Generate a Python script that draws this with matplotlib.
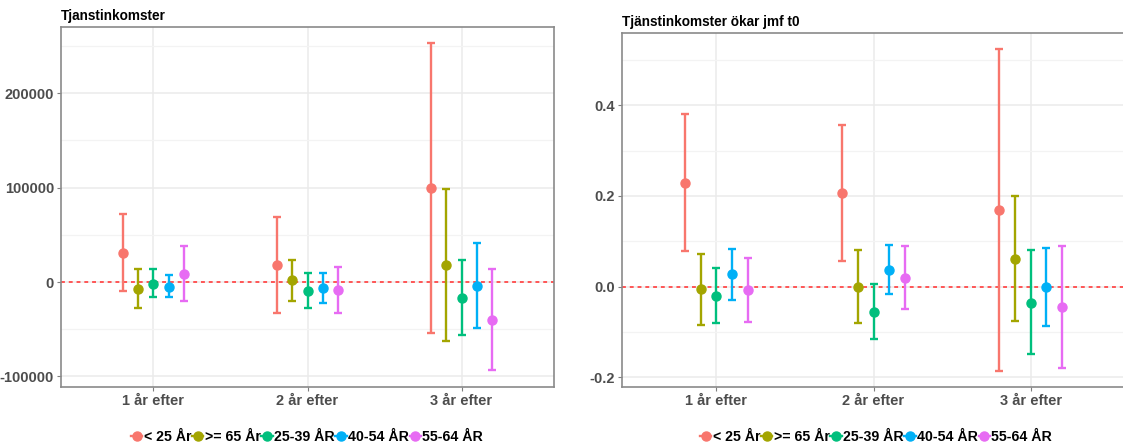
import numpy as np
import matplotlib
matplotlib.use("Agg")
import matplotlib.pyplot as plt
from matplotlib.lines import Line2D

plt.rcParams["font.family"] = ["Liberation Sans", "DejaVu Sans"]

# categories and groups
periods = ["1 år efter", "2 år efter", "3 år efter"]
groups = ["< 25 År", ">= 65 År", "25-39 ÅR", "40-54 ÅR", "55-64 ÅR"]
colors = ["#F8766D", "#A3A500", "#00BF7D", "#00B0F6", "#E76BF3"]

# left panel: Tjanstinkomster (rows = groups, cols = periods)
inc_est = [[30700, 17700, 99600],
           [-7400, 1800, 18400],
           [-1800, -9200, -16600],
           [-4900, -6000, -4200],
           [8800, -8800, -40300]]
inc_lo = [[-9900, -32900, -53700],
          [-27900, -20500, -62200],
          [-16300, -27200, -55800],
          [-16300, -22300, -49100],
          [-20100, -32500, -93600]]
inc_hi = [[71700, 69300, 253400],
          [13800, 23700, 98900],
          [13800, 9200, 23000],
          [7100, 9200, 41000],
          [37800, 15500, 14100]]

# right panel: Tjänstinkomster ökar jmf t0
rel_est = [[0.229, 0.207, 0.168],
           [-0.006, 0.000, 0.062],
           [-0.020, -0.056, -0.035],
           [0.027, 0.037, 0.000],
           [-0.008, 0.020, -0.045]]
rel_lo = [[0.079, 0.056, -0.185],
          [-0.084, -0.079, -0.076],
          [-0.079, -0.115, -0.149],
          [-0.029, -0.016, -0.086],
          [-0.078, -0.050, -0.180]]
rel_hi = [[0.380, 0.357, 0.524],
          [0.073, 0.081, 0.199],
          [0.041, 0.005, 0.080],
          [0.084, 0.091, 0.086],
          [0.064, 0.089, 0.090]]

left_ticks = [-100000, 0, 100000, 200000]
left_minor = [-50000, 50000, 150000, 250000]
right_ticks = [-0.2, 0.0, 0.2, 0.4]
right_minor = [-0.1, 0.1, 0.3, 0.5]

W, H = 1123, 448
fig = plt.figure(figsize=(W / 100, H / 100), dpi=100)


def panel(rect, est, lo, hi, title, ylim, ticks, minor, ticklabels):
    ax = fig.add_axes(rect)
    x = np.arange(1, len(periods) + 1)
    offsets = np.linspace(-0.2, 0.2, len(groups))
    for i, g in enumerate(groups):
        e = np.array(est[i])
        yerr = [e - np.array(lo[i]), np.array(hi[i]) - e]
        ax.errorbar(x + offsets[i], e, yerr=yerr, fmt="o", color=colors[i],
                    ecolor=colors[i], elinewidth=1.7, capsize=3, capthick=1.7,
                    markersize=6.5, zorder=3)
    ax.axhline(0, color="#FF5555", linestyle=(0, (2, 2)), linewidth=1.4, zorder=2)
    ax.set_xlim(0.4, 3.6)
    ax.set_ylim(*ylim)
    ax.set_xticks(x)
    ax.set_xticklabels(periods)
    ax.set_yticks(ticks)
    ax.set_yticklabels(ticklabels)
    ax.set_yticks(minor, minor=True)
    ax.grid(True, which="major", color="#EBEBEB", linewidth=1.1, zorder=0)
    ax.grid(True, which="minor", axis="y", color="#F3F3F3", linewidth=0.9, zorder=0)
    ax.tick_params(which="minor", length=0)
    ax.tick_params(which="major", length=3, color="#7F7F7F", labelsize=10.5,
                   labelcolor="#4D4D4D", pad=2)
    for lab in ax.get_xticklabels() + ax.get_yticklabels():
        lab.set_fontweight("bold")
    for sp in ax.spines.values():
        sp.set_color("#8A8A8A")
        sp.set_linewidth(1.2)
    ax.set_axisbelow(True)
    ax.set_title(title, loc="left", fontsize=9.8, fontweight="bold", pad=5, x=0.0)
    return ax


ax1 = panel([61 / W, 61 / H, (554 - 61) / W, (387 - 27) / H],
            inc_est, inc_lo, inc_hi, "Tjanstinkomster",
            (-111300, 270300), left_ticks, left_minor,
            ["-100000", "0", "100000", "200000"])
ax2 = panel([622 / W, 61 / H, (1125 - 622) / W, (387 - 33) / H],
            rel_est, rel_lo, rel_hi, "Tjänstinkomster ökar jmf t0",
            (-0.221, 0.559), right_ticks, right_minor,
            ["-0.2", "0.0", "0.2", "0.4"])

handles = [Line2D([0], [0], color=c, marker="o", markersize=6.5, linewidth=1.7)
           for c in colors]
for cx in [307 / W, 876 / W]:
    fig.legend(handles, groups, loc="center", bbox_to_anchor=(cx, 1 - 437 / H),
               ncol=5, frameon=False, handlelength=0.8, handletextpad=0.1,
               columnspacing=0.05, prop={"weight": "bold", "size": 10.2})

fig.savefig("out.png", dpi=100)
